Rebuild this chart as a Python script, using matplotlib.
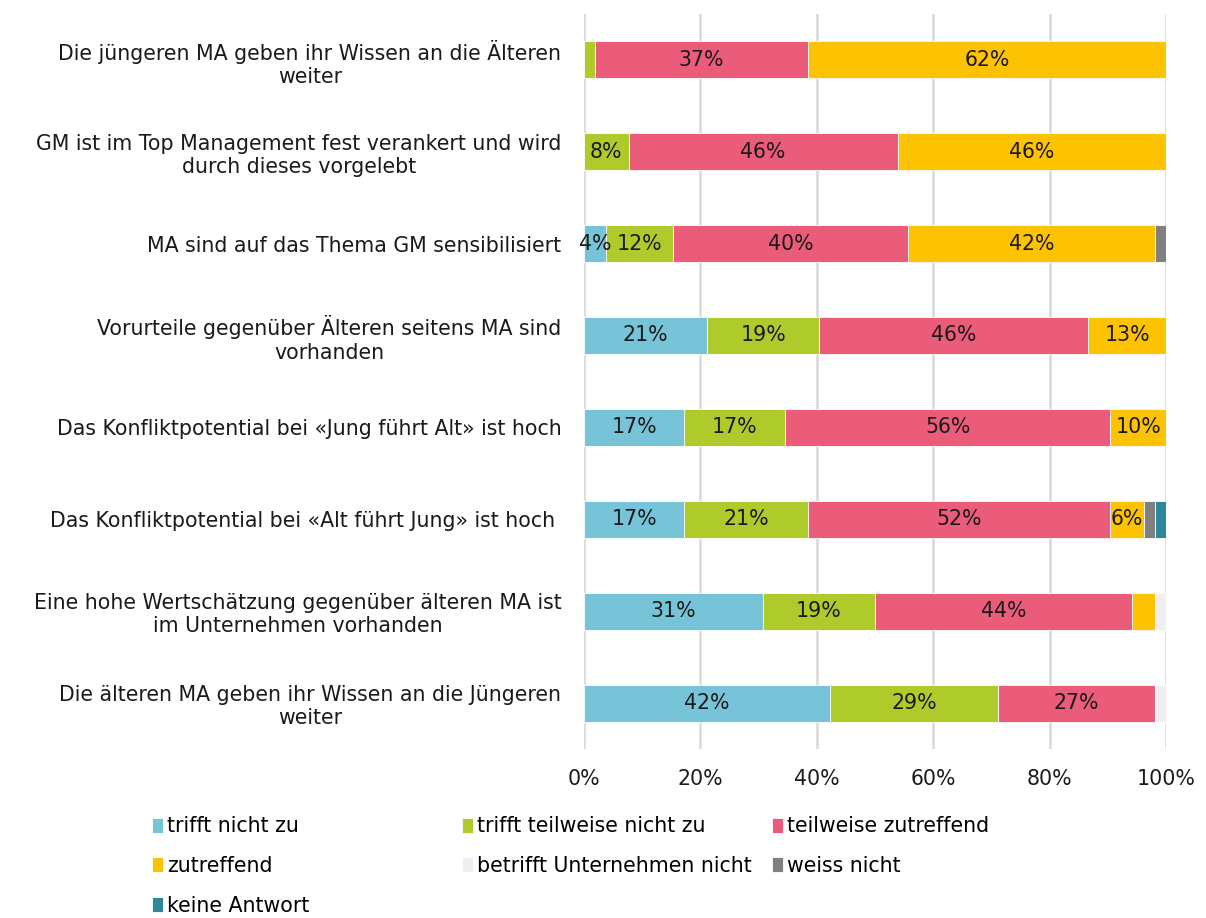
import matplotlib.pyplot as plt
import numpy as np

categories = [
    "Die jüngeren MA geben ihr Wissen an die Älteren\nweiter",
    "GM ist im Top Management fest verankert und wird\ndurch dieses vorgelebt",
    "MA sind auf das Thema GM sensibilisiert",
    "Vorurteile gegenüber Älteren seitens MA sind\nvorhanden",
    "Das Konfliktpotential bei «Jung führt Alt» ist hoch",
    "Das Konfliktpotential bei «Alt führt Jung» ist hoch ",
    "Eine hohe Wertschätzung gegenüber älteren MA ist\nim Unternehmen vorhanden",
    "Die älteren MA geben ihr Wissen an die Jüngeren\nweiter",
]

series = ["trifft nicht zu", "trifft teilweise nicht zu", "teilweise zutreffend",
          "zutreffend", "betrifft Unternehmen nicht", "weiss nicht", "keine Antwort"]
colors = ["#77C4D9", "#AFCA2B", "#EB5B7A", "#FDC300", "#EFEFEF", "#808080", "#2E879A"]

# percent per category (top to bottom)
trifft_nicht = [0.0, 0.0, 3.8, 21.2, 17.3, 17.3, 30.8, 42.3]
teilw_nicht = [1.9, 7.7, 11.5, 19.2, 17.3, 21.2, 19.2, 28.8]
teilw_zutr = [36.6, 46.2, 40.4, 46.2, 55.8, 51.9, 44.2, 26.9]
zutreffend = [61.5, 46.1, 42.3, 13.4, 9.6, 5.8, 3.8, 0.0]
betrifft_nicht = [0.0, 0.0, 0.0, 0.0, 0.0, 0.0, 2.0, 2.0]
weiss_nicht = [0.0, 0.0, 2.0, 0.0, 0.0, 1.9, 0.0, 0.0]
keine_antwort = [0.0, 0.0, 0.0, 0.0, 0.0, 1.9, 0.0, 0.0]

# which segment labels are shown (as in the original)
shown = [
    [False, False, True, True, False, False, False],
    [False, True, True, True, False, False, False],
    [True, True, True, True, False, False, False],
    [True, True, True, True, False, False, False],
    [True, True, True, True, False, False, False],
    [True, True, True, True, False, False, False],
    [True, True, True, False, False, False, False],
    [True, True, True, False, False, False, False],
]

data = np.array([trifft_nicht, teilw_nicht, teilw_zutr, zutreffend,
                 betrifft_nicht, weiss_nicht, keine_antwort]).T

fs = 14.8
fig = plt.figure(figsize=(12.06, 9.18), dpi=100)
ax = fig.add_axes([0.484, 0.184, 0.483, 0.801])

y = np.arange(len(categories))
left = np.zeros(len(categories))
handles = []
for j, name in enumerate(series):
    vals = data[:, j]
    b = ax.barh(y, vals, left=left, height=0.4, color=colors[j], label=name,
                edgecolor="white", linewidth=0.6, zorder=3)
    handles.append(b)
    for i, v in enumerate(vals):
        if shown[i][j]:
            ax.text(left[i] + v / 2, y[i], f"{v:.0f}%", ha="center", va="center",
                    fontsize=fs, color="#1a1a1a", zorder=4)
    left += vals

ax.set_xlim(0, 100)
ax.set_ylim(len(categories) - 0.5, -0.5)
ax.set_xticks(np.arange(0, 101, 20))
ax.set_xticklabels([f"{t}%" for t in range(0, 101, 20)])
ax.set_yticks(y)
ax.set_yticklabels(categories)
for lab in ax.get_yticklabels():
    lab.set_multialignment("center")
ax.tick_params(axis="both", length=0, labelsize=fs, colors="#1a1a1a")
ax.tick_params(axis="y", pad=16)
ax.tick_params(axis="x", pad=14)
ax.grid(axis="x", color="#D9D9D9", linewidth=1.8, zorder=0)
for s in ax.spines.values():
    s.set_visible(False)

# legend laid out like the original (3 equal columns)
pos = [(0.126, 0.100), (0.383, 0.100), (0.640, 0.100),
       (0.126, 0.057), (0.383, 0.057), (0.640, 0.057),
       (0.126, 0.013)]
for h, name, (lx, ly) in zip(handles, series, pos):
    fig.legend([h], [name], loc="center left", bbox_to_anchor=(lx, ly),
               frameon=False, fontsize=fs, handlelength=0.55, handleheight=0.75,
               handletextpad=0.2, borderpad=0, borderaxespad=0)

fig.savefig("out.png", dpi=100)
